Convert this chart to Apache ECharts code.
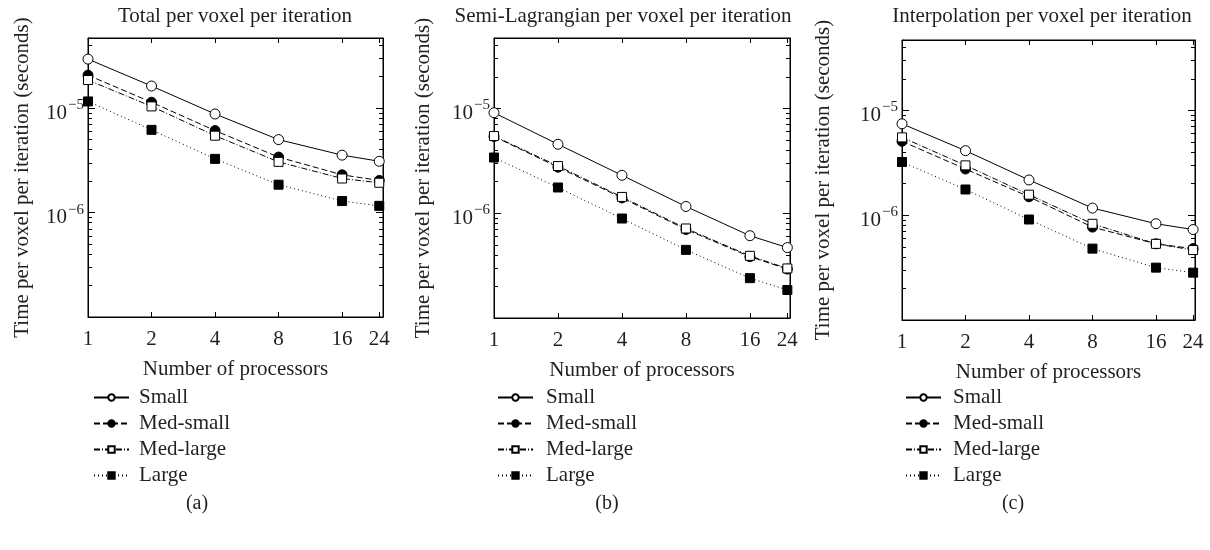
<!DOCTYPE html>
<html>
<head>
<meta charset="utf-8">
<script src="https://cdn.jsdelivr.net/npm/echarts@6/dist/echarts.min.js"></script>
<style>
  html, body { margin: 0; padding: 0; background: #fff; }
  #main { width: 1210px; height: 550px; }
</style>
</head>
<body>
<div id="main"></div>
<script>
// 数据
const procs = [1, 2, 4, 8, 16, 24];
const xTicks = [1, 2, 4, 8, 16, 24];
const yMajor = [1e-6, 1e-5];
const yMinor = [2e-7, 3e-7, 4e-7, 5e-7, 6e-7, 7e-7, 8e-7, 9e-7,
                2e-6, 3e-6, 4e-6, 5e-6, 6e-6, 7e-6, 8e-6, 9e-6,
                2e-5, 3e-5, 4e-5];
const seriesNames = ['Small', 'Med-small', 'Med-large', 'Large'];
const panelTitles = ['Total per voxel per iteration', 'Semi-Lagrangian per voxel per iteration', 'Interpolation per voxel per iteration'];
const captions = ['(a)', '(b)', '(c)'];

// (a) total
const totalSmall    = [2.95e-5, 1.63e-5, 8.8e-6, 5.0e-6, 3.55e-6, 3.1e-6];
const totalMedSmall = [2.07e-5, 1.14e-5, 6.1e-6, 3.4e-6, 2.3e-6, 2.03e-6];
const totalMedLarge = [1.86e-5, 1.04e-5, 5.45e-6, 3.06e-6, 2.12e-6, 1.93e-6];
const totalLarge    = [1.16e-5, 6.2e-6, 3.27e-6, 1.85e-6, 1.29e-6, 1.16e-6];
// (b) semi-lagrangian
const semiSmall    = [9.1e-6, 4.55e-6, 2.3e-6, 1.16e-6, 6.1e-7, 4.7e-7];
const semiMedSmall = [5.4e-6, 2.75e-6, 1.4e-6, 7.0e-7, 3.85e-7, 2.93e-7];
const semiMedLarge = [5.45e-6, 2.82e-6, 1.43e-6, 7.15e-7, 3.92e-7, 2.97e-7];
const semiLarge    = [3.4e-6, 1.76e-6, 8.9e-7, 4.47e-7, 2.4e-7, 1.85e-7];
// (c) interpolation
const interpSmall    = [7.45e-6, 4.13e-6, 2.17e-6, 1.17e-6, 8.3e-7, 7.3e-7];
const interpMedSmall = [5.07e-6, 2.76e-6, 1.5e-6, 7.7e-7, 5.33e-7, 4.8e-7];
const interpMedLarge = [5.53e-6, 2.99e-6, 1.57e-6, 8.28e-7, 5.33e-7, 4.65e-7];
const interpLarge    = [3.22e-6, 1.76e-6, 9.1e-7, 4.8e-7, 3.16e-7, 2.83e-7];

const panelData = [
  [totalSmall, totalMedSmall, totalMedLarge, totalLarge],
  [semiSmall, semiMedSmall, semiMedLarge, semiLarge],
  [interpSmall, interpMedSmall, interpMedLarge, interpLarge]
];

const font = "'Liberation Serif', 'DejaVu Serif', serif";
const ink = '#231f20';

// 布局
const grids = [
  { left: 88, top: 38, width: 295, height: 279, xMax: 25, nameGap: 55, legendLeft: 93, textPad: 5, titleX: 235, capX: 197 },
  { left: 494, top: 38, width: 296, height: 280, xMax: 24.7, nameGap: 60, legendLeft: 497, textPad: 8, titleX: 623, capX: 607 },
  { left: 902, top: 40, width: 293, height: 280, xMax: 24.5, nameGap: 68, legendLeft: 905, textPad: 7, titleX: 1042, capX: 1013 }
];

// 线型
const styles = [
  { symbol: 'circle', size: 10, fill: '#fff', dash: 'solid' },
  { symbol: 'circle', size: 10, fill: '#000', dash: [6, 3] },
  { symbol: 'rect', size: 9, fill: '#fff', dash: [6, 2, 1, 2] },
  { symbol: 'rect', size: 9, fill: '#000', dash: [1, 3] }
];

let option = {
  animation: false,
  title: [],
  legend: [],
  grid: [],
  xAxis: [],
  yAxis: [],
  series: []
};

function yLabel(v) {
  let e = Math.round(Math.log10(v));
  return '{b|10}{s|\u2212' + (-e) + '}';
}

grids.forEach((g, p) => {
  option.grid.push({ left: g.left, top: g.top, width: g.width, height: g.height, show: true, borderColor: '#000', borderWidth: 1, containLabel: false });
  option.title.push({
    text: panelTitles[p], left: g.titleX, top: 6, textAlign: 'center', padding: 0,
    textStyle: { fontFamily: font, fontSize: 21, fontWeight: 'normal', color: ink }
  });
  option.title.push({
    text: captions[p], left: g.capX, top: 494, textAlign: 'center', padding: 0,
    textStyle: { fontFamily: font, fontSize: 20, fontWeight: 'normal', color: ink }
  });
  // x 轴 下 + 上
  option.xAxis.push({
    type: 'log', logBase: 2, gridIndex: p, min: 1, max: g.xMax, position: 'bottom',
    name: 'Number of processors', nameLocation: 'middle', nameGap: 42,
    nameTextStyle: { fontFamily: font, fontSize: 21, color: ink },
    axisLine: { show: true, lineStyle: { color: '#000', width: 1 } },
    axisTick: { show: true, inside: true, length: 5, customValues: xTicks, lineStyle: { color: '#000' } },
    axisLabel: { show: true, customValues: xTicks, margin: 12, fontFamily: font, fontSize: 21, color: ink,
      formatter: v => String(Math.round(v)) },
    splitLine: { show: false }
  });
  option.xAxis.push({
    type: 'log', logBase: 2, gridIndex: p, min: 1, max: g.xMax, position: 'top',
    axisLine: { show: true, lineStyle: { color: '#000', width: 1 } },
    axisTick: { show: true, inside: true, length: 5, customValues: xTicks, lineStyle: { color: '#000' } },
    axisLabel: { show: false },
    splitLine: { show: false }
  });
  // y 轴：左主、左次、右主、右次
  ['left', 'right'].forEach(side => {
    option.yAxis.push({
      type: 'log', gridIndex: p, min: 1e-7, max: 4.7e-5, position: side,
      name: side === 'left' ? 'Time per voxel per iteration (seconds)' : '',
      nameLocation: 'middle', nameGap: g.nameGap, nameRotate: 90,
      nameTextStyle: { fontFamily: font, fontSize: 21, color: ink },
      axisLine: { show: true, lineStyle: { color: '#000', width: 1 } },
      axisTick: { show: true, inside: true, length: 7, customValues: yMajor, lineStyle: { color: '#000' } },
      axisLabel: {
        show: side === 'left', customValues: yMajor, margin: 4, formatter: yLabel,
        padding: [10, 0, 0, 0],
        rich: {
          b: { fontFamily: font, fontSize: 21, lineHeight: 21, color: ink, verticalAlign: 'bottom' },
          s: { fontFamily: font, fontSize: 15, lineHeight: 15, color: ink, padding: [0, 0, 11, 1], verticalAlign: 'bottom' }
        }
      },
      splitLine: { show: false }
    });
    option.yAxis.push({
      type: 'log', gridIndex: p, min: 1e-7, max: 4.7e-5, position: side,
      axisLine: { show: false },
      axisTick: { show: true, inside: true, length: 4, customValues: yMinor, lineStyle: { color: '#000' } },
      axisLabel: { show: false },
      splitLine: { show: false }
    });
  });
  option.legend.push({
    orient: 'vertical', left: g.legendLeft, top: 387, padding: 0,
    itemWidth: 35, itemHeight: 8, itemGap: 5, selectedMode: false,
    data: seriesNames,
    textStyle: { fontFamily: font, fontSize: 21, lineHeight: 20, color: ink, padding: [0, 0, 0, g.textPad] }
  });
  panelData[p].forEach((vals, s) => {
    let st = styles[s];
    option.series.push({
      type: 'line', name: seriesNames[s],
      xAxisIndex: p * 2, yAxisIndex: p * 4,
      data: procs.map((x, i) => [x, vals[i]]),
      symbol: st.symbol, symbolSize: st.size, showAllSymbol: true,
      lineStyle: { color: '#000', width: 1, type: st.dash },
      itemStyle: { color: st.fill, borderColor: '#000', borderWidth: 1 },
      emphasis: { disabled: true }
    });
  });
});

let myChart = echarts.init(document.getElementById('main'));
myChart.setOption(option);
</script>
</body>
</html>
